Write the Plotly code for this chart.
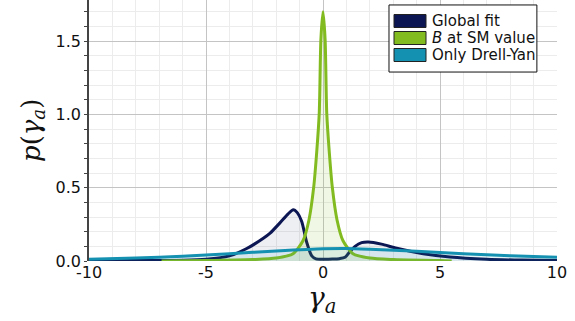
import plotly.graph_objects as go

# ---- data ----
global_x = [-10, -8, -6, -5, -4, -3.26, -2.55, -2.26, -1.84, -1.5, -1.27, -1.1, -0.91, -0.7, -0.48, -0.3,
            0, 0.4, 0.7, 0.94, 1.15, 1.37, 1.65, 1.94, 2.5, 3.15, 4.28, 5.43, 7, 8.5, 10]
global_y = [0.002, 0.003, 0.005, 0.012, 0.035, 0.085, 0.155, 0.19, 0.26, 0.32, 0.35, 0.33, 0.27, 0.13, 0.035, 0.015,
            0.012, 0.013, 0.016, 0.025, 0.065, 0.10, 0.125, 0.13, 0.115, 0.087, 0.05, 0.027, 0.012, 0.006, 0.003]

sm_x = [-6.9, -5, -3, -2, -1.28, -0.85, -0.6, -0.4, -0.27, -0.16, -0.09, 0,
        0.09, 0.16, 0.27, 0.4, 0.6, 0.85, 1.28, 2, 3, 5, 5.5]
sm_y = [0.0, 0.003, 0.01, 0.02, 0.05, 0.14, 0.28, 0.50, 0.74, 1.01, 1.51, 1.70,
        1.51, 1.01, 0.74, 0.50, 0.28, 0.14, 0.05, 0.02, 0.01, 0.003, 0.0]

dy_x = [-10, -8, -6, -4, -2, 0, 1, 2, 4, 6, 8, 10]
dy_y = [0.012, 0.02, 0.033, 0.05, 0.068, 0.083, 0.085, 0.08, 0.066, 0.05, 0.036, 0.025]

names = ["Global fit", "<i>B</i> at SM value", "Only Drell-Yan"]
colors = ["#0b1653", "#82bb1f", "#1490b0"]
fills = ["rgba(11,22,83,0.07)", "rgba(130,187,31,0.12)", "rgba(20,144,176,0.10)"]

x_ticks = [-10, -5, 0, 5, 10]
y_ticks = [0.0, 0.5, 1.0, 1.5]

fig = go.Figure()
for xs, ys, c, f, n in [(global_x, global_y, colors[0], fills[0], names[0]),
                        (sm_x, sm_y, colors[1], fills[1], names[1]),
                        (dy_x, dy_y, colors[2], fills[2], names[2])]:
    fig.add_trace(go.Scatter(x=xs, y=ys, mode="lines", line=dict(color=c, width=3, shape="spline", smoothing=0.7),
                             fill="tozeroy", fillcolor=f, name=n, showlegend=False))

fig.update_layout(
    width=575, height=321,
    margin=dict(l=89, r=18, t=0, b=60),
    plot_bgcolor="white", paper_bgcolor="white",
    font=dict(family="DejaVu Sans", size=16, color="#111"),
)
fig.update_xaxes(range=[-10, 10], tickvals=x_ticks, ticktext=["-10", "-5", "0", "5", "10"],
                 showgrid=True, gridcolor="#c4c4c4", gridwidth=1, zeroline=False, showline=False,
                 ticks="", minor=dict(dtick=1, showgrid=True, gridcolor="#ececec"))
fig.update_yaxes(range=[0, 1.78], tickvals=y_ticks, ticktext=["0.0", "0.5", "1.0", "1.5"],
                 showgrid=True, gridcolor="#c4c4c4", gridwidth=1, zeroline=False,
                 showline=True, linecolor="#444", linewidth=1.5, ticks="outside", ticklen=3, tickcolor="#444",
                 minor=dict(dtick=0.1, showgrid=True, gridcolor="#ececec", ticks="outside", ticklen=3, tickcolor="#444"))

# axis titles
fig.add_annotation(xref="paper", yref="paper", x=(14 - 89) / 468, y=0.5, showarrow=False, textangle=-90,
                   text="<i>p</i>(<i>γ</i><sub><i>a</i></sub>)",
                   font=dict(family="DejaVu Serif", size=26, color="#111"))
fig.add_annotation(xref="paper", yref="paper", x=(322 - 89) / 468, y=-(299 - 261) / 261, showarrow=False,
                   yanchor="middle", text="<i>γ</i><sub><i>a</i></sub>",
                   font=dict(family="DejaVu Serif", size=28, color="#111"))

# legend (manual)
fig.add_shape(type="rect", xref="paper", yref="paper", x0=0.641, x1=0.957, y0=0.724, y1=0.981,
              fillcolor="white", line=dict(color="#111", width=1), layer="above")
rows = [21, 38, 55]
for py, c, n in zip(rows, colors, names):
    yc = (261 - py) / 261
    fig.add_shape(type="rect", xref="paper", yref="paper", x0=(394 - 89) / 468, x1=(426 - 89) / 468,
                  y0=yc - 6.5 / 261, y1=yc + 6.5 / 261, fillcolor=c, line=dict(color="#222", width=1), layer="above")
    fig.add_annotation(xref="paper", yref="paper", x=(430 - 89) / 468, y=yc, xanchor="left", yanchor="middle",
                       showarrow=False, text=n, font=dict(family="DejaVu Sans", size=15, color="#111"))

fig.write_html("out.html", config={"displayModeBar": False},
               post_script="document.body.style.margin='0';")
